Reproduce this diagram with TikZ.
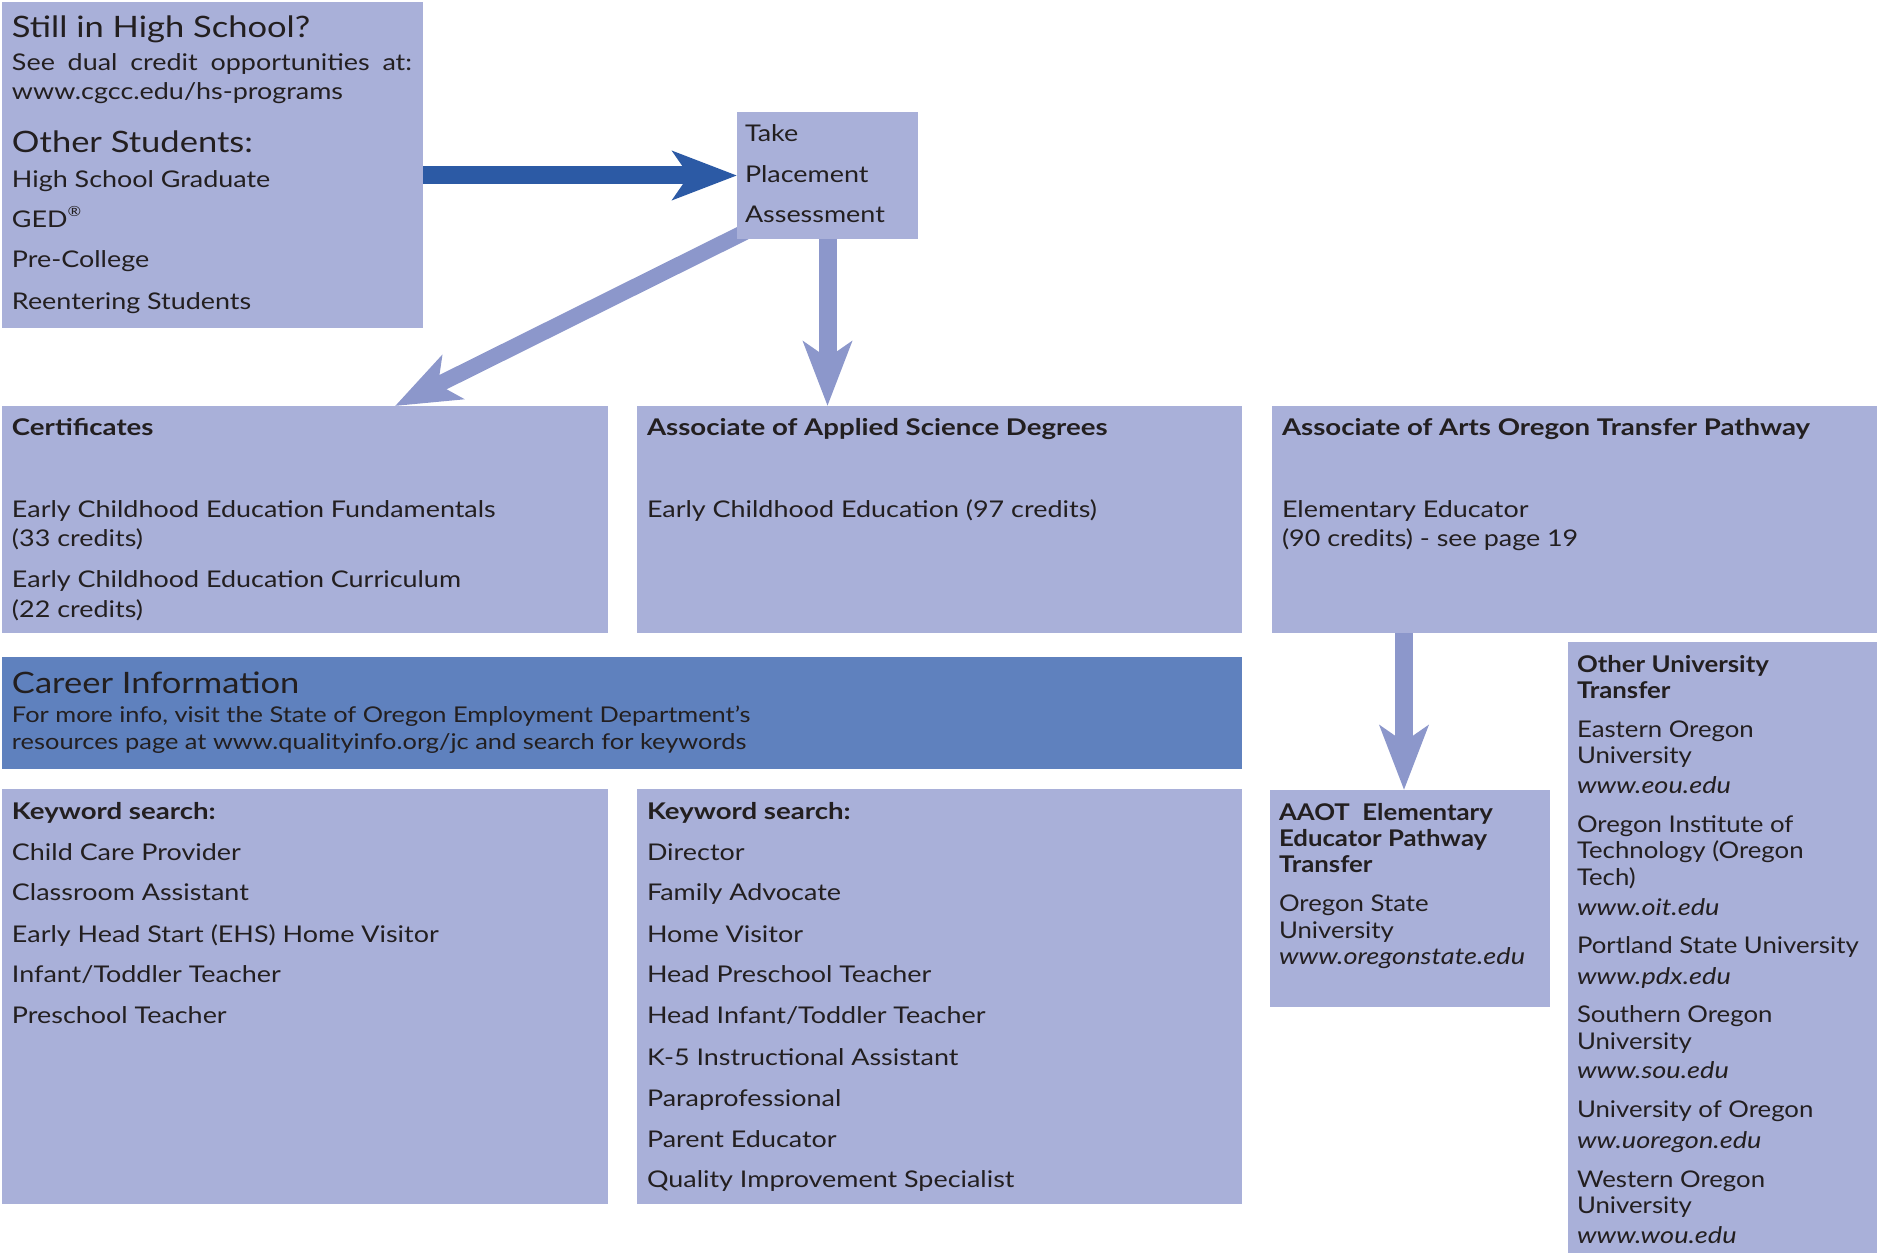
\documentclass[tikz,border=0pt]{standalone}
\usepackage{fontspec}
\setmainfont{Lato}[FakeStretch=1.17,BoldFeatures={FakeStretch=1.2}]
\newfontfamily\sidefont{Lato}[FakeStretch=1.12,ItalicFeatures={FakeStretch=1.18}]
\usetikzlibrary{arrows.meta,backgrounds}
\definecolor{boxc}{HTML}{A9B0D9}
\definecolor{arrc}{HTML}{8C97CB}
\definecolor{darkarr}{HTML}{2C5AA5}
\definecolor{carc}{HTML}{5F81BE}
\definecolor{txtc}{HTML}{231F20}
\newcommand\fBig{\fontsize{29.5}{34}\selectfont}
\newcommand\fMain{\fontsize{23}{27}\selectfont}
\newcommand\fCar{\fontsize{21.7}{25}\selectfont}
\newcommand\fSide{\sidefont\fontsize{23}{26}\selectfont}
\newcommand\LineAt[4][]{\node[txt,#1] (L#2x#3) at (#2,#3) {#4};}
\tikzset{
  box/.style={fill=boxc,draw=none,inner sep=0pt,outer sep=0pt,anchor=north west},
  txt/.style={anchor=base west,inner sep=0pt,outer sep=0pt,text=txtc,font=\fMain},
  bld/.style={font=\fMain\bfseries},
  side/.style={font=\fSide},
  sidebld/.style={font=\fSide\bfseries},
  sideit/.style={font=\fSide\itshape},
  lightarrow/.style={draw=arrc,line width=18pt,-{Stealth[length=64pt,width=48pt,inset=16pt]}},
  darkarrow/.style={draw=darkarr,line width=18pt,-{Stealth[length=64pt,width=48pt,inset=16pt]}},
}
\begin{document}
\begin{tikzpicture}[x=1pt,y=-1pt]
\useasboundingbox (0,0) rectangle (1881,1257);
% boxes
\node[box,minimum width=421pt,minimum height=326pt] (hs) at (2,2) {};
\node[box,minimum width=181pt,minimum height=127pt] (take) at (737,112) {};
\node[box,minimum width=606pt,minimum height=227pt] (cert) at (2,406) {};
\node[box,minimum width=605pt,minimum height=227pt] (aas) at (637,406) {};
\node[box,minimum width=605pt,minimum height=227pt] (aaot) at (1272,406) {};
\node[box,fill=carc,minimum width=1240pt,minimum height=112pt] (career) at (2,657) {};
\node[box,minimum width=606pt,minimum height=415pt] (kw1) at (2,789) {};
\node[box,minimum width=605pt,minimum height=415pt] (kw2) at (637,789) {};
\node[box,minimum width=280pt,minimum height=217pt] (trans) at (1270,790) {};
\node[box,minimum width=309pt,minimum height=611pt] (other) at (1568,642) {};
% arrows
\begin{scope}[on background layer]
\draw[darkarrow] (hs.east |- take.west) -- (take.west);
\draw[lightarrow,line width=16pt] ([xshift=8pt,yshift=7pt]take.south west) -- ([xshift=90pt]cert.north);
\draw[lightarrow] (take.south) -- (take.south |- aas.north);
\coordinate (tn) at ([xshift=-6pt]trans.north);
\draw[lightarrow] (tn |- aaot.south) -- (tn);
\end{scope}
% box 1
\LineAt[font=\fBig]{12}{38}{Still in High School?}
\LineAt{12}{71}{\makebox[400pt][s]{See dual credit opportunities at:}}
\LineAt{12}{100}{www.cgcc.edu/hs-programs}
\LineAt[font=\fBig]{12}{153}{Other Students:}
\LineAt{12}{188}{High School Graduate}
\LineAt{12}{228}{GED\raisebox{0.5em}{\fontsize{14}{14}\selectfont ®}}
\LineAt{12}{268}{Pre-College}
\LineAt{12}{309}{Reentering Students}
% take
\LineAt{745}{142}{Take}
\LineAt{745}{183}{Placement}
\LineAt{745}{223}{Assessment}
% certificates
\LineAt[bld]{12}{435}{Certificates}
\LineAt{12}{517}{Early Childhood Education Fundamentals}
\LineAt{12}{546}{(33 credits)}
\LineAt{12}{587}{Early Childhood Education Curriculum}
\LineAt{12}{617}{(22 credits)}
% aas
\LineAt[bld]{647}{435}{Associate of Applied Science Degrees}
\LineAt{647}{517}{Early Childhood Education (97 credits)}
% aaot
\LineAt[bld]{1282}{435}{Associate of Arts Oregon Transfer Pathway}
\LineAt{1282}{517}{Elementary Educator}
\LineAt{1282}{546}{(90 credits) - see page 19}
% career
\LineAt[font=\fBig]{12}{693}{Career Information}
\LineAt[font=\fCar]{12}{722}{For more info, visit the State of Oregon Employment Department’s}
\LineAt[font=\fCar]{12}{749}{resources page at www.qualityinfo.org/jc and search for keywords}
% keywords 1
\LineAt[bld]{12}{819}{Keyword search:}
\LineAt{12}{860}{Child Care Provider}
\LineAt{12}{900}{Classroom Assistant}
\LineAt{12}{942}{Early Head Start (EHS) Home Visitor}
\LineAt{12}{982}{Infant/Toddler Teacher}
\LineAt{12}{1023}{Preschool Teacher}
% keywords 2
\LineAt[bld]{647}{819}{Keyword search:}
\LineAt{647}{860}{Director}
\LineAt{647}{900}{Family Advocate}
\LineAt{647}{942}{Home Visitor}
\LineAt{647}{982}{Head Preschool Teacher}
\LineAt{647}{1023}{Head Infant/Toddler Teacher}
\LineAt{647}{1065}{K-5 Instructional Assistant}
\LineAt{647}{1106}{Paraprofessional}
\LineAt{647}{1147}{Parent Educator}
\LineAt{647}{1187}{Quality Improvement Specialist}
% AAOT transfer
\LineAt[sidebld]{1279}{820}{AAOT\ \ Elementary}
\LineAt[sidebld]{1279}{846}{Educator Pathway}
\LineAt[sidebld]{1279}{872}{Transfer}
\LineAt[side]{1279}{911}{Oregon State}
\LineAt[side]{1279}{938}{University}
\LineAt[sideit]{1279}{964}{www.oregonstate.edu}
% other universities
\LineAt[sidebld]{1577}{672}{Other University}
\LineAt[sidebld]{1577}{698}{Transfer}
\LineAt[side]{1577}{737}{Eastern Oregon}
\LineAt[side]{1577}{763}{University}
\LineAt[sideit]{1577}{793}{www.eou.edu}
\LineAt[side]{1577}{832}{Oregon Institute of}
\LineAt[side]{1577}{858}{Technology (Oregon}
\LineAt[side]{1577}{885}{Tech)}
\LineAt[sideit]{1577}{915}{www.oit.edu}
\LineAt[side]{1577}{953}{Portland State University}
\LineAt[sideit]{1577}{984}{www.pdx.edu}
\LineAt[side]{1577}{1022}{Southern Oregon}
\LineAt[side]{1577}{1049}{University}
\LineAt[sideit]{1577}{1078}{www.sou.edu}
\LineAt[side]{1577}{1117}{University of Oregon}
\LineAt[sideit]{1577}{1148}{ww.uoregon.edu}
\LineAt[side]{1577}{1187}{Western Oregon}
\LineAt[side]{1577}{1213}{University}
\LineAt[sideit]{1577}{1243}{www.wou.edu}
\end{tikzpicture}
\end{document}
